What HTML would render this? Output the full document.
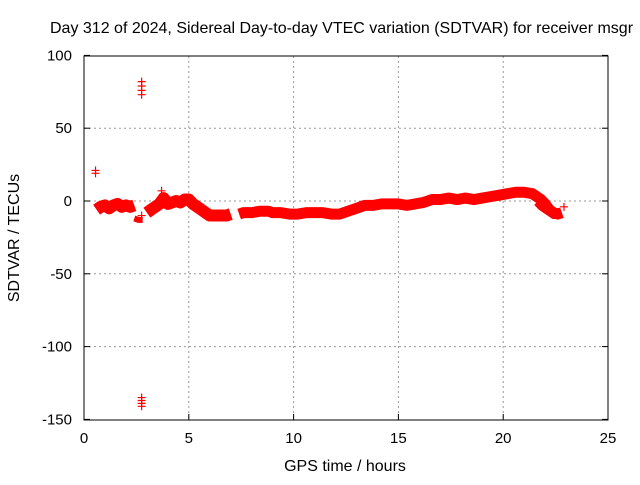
<!DOCTYPE html>
<html><head><meta charset="utf-8"><style>
body{margin:0;background:#fff}
svg{font-family:"Liberation Sans",sans-serif;font-size:15px}
</style></head><body>
<svg width="640" height="480" viewBox="0 0 640 480">
<text x="50" y="33" font-size="16">Day 312 of 2024, Sidereal Day-to-day VTEC variation (SDTVAR) for receiver msgr</text>
<g id="grid"></g>
<g id="axes"></g>
<g id="data"></g>
<rect x="84" y="56" width="524" height="364" fill="none" stroke="#000"/>
<text x="345" y="471" font-size="16" text-anchor="middle">GPS time / hours</text>
<text transform="translate(19,238) rotate(-90)" font-size="16" text-anchor="middle">SDTVAR / TECUs</text>
</svg>
<script>
const xTicks=[0,5,10,15,20,25];
const yTicks=[100,50,0,-50,-100,-150];
const times=[0.6,0.8,1.0,1.2,1.4,1.6,1.8,2.0,2.2,2.4];
const vals=[-6,-4,-3,-5,-3,-2,-4,-3,-4,-3];
const times2=[3.0,3.2,3.4,3.6,3.8,4.0,4.2,4.4,4.6,4.8,5.0,5.2,5.4,5.6,5.8,6.0,6.2,6.4,6.6,6.8,7.0];
const vals2=[-8,-6,-4,-2,2,-2,-1,0,-1,1,1,-2,-4,-6,-8,-10,-10,-10,-10,-10,-9];
const times3=[7.4,7.6,7.8,8.0,8.4,8.8,9.0,9.4,9.8,10.2,10.6,11.0,11.4,11.8,12.2,12.6,13.0,13.4,13.8,14.2,14.6,15.0,15.4,15.8,16.2,16.6,17.0,17.4,17.8,18.2,18.6,19.0,19.4,19.8,20.2,20.6,21.0,21.4,21.8,22.0,22.2,22.4,22.6,22.8];
const vals3=[-9,-8,-8,-8,-7,-7,-8,-8,-9,-9,-8,-8,-8,-9,-9,-7,-5,-3,-3,-2,-2,-2,-3,-2,-1,1,1,2,1,2,1,2,3,4,5,6,6,5,1,-2,-6,-8,-9,-8];
const times4=[2.4,2.6,2.8];
const vals4=[-12,-13,-13];
const times5=[21.6,21.8,22.0,22.2,22.4,22.6,22.8];
const vals5=[-1,-4,-6,-8,-10,-10,-9];
const outT=[0.55,0.55,2.75,2.75,2.75,2.75,2.75,2.75,2.75,2.75,2.75,3.7,22.9];
const outV=[19,21,73,76,79,82,-135,-137,-139,-141,-10,7,-4];
const X=t=>84+t*524/25, Y=v=>201-v*364/250;
const NS='http://www.w3.org/2000/svg';
function mk(tag,at,parent){const e=document.createElementNS(NS,tag);for(const k in at)e.setAttribute(k,at[k]);parent.appendChild(e);return e;}
const grid=document.getElementById('grid'),axes=document.getElementById('axes'),data=document.getElementById('data');
xTicks.forEach(t=>{
 if(t>0&&t<25){const l=mk('line',{x1:X(t),x2:X(t),y1:56,y2:420,stroke:'#999','stroke-dasharray':'2,3'},grid);
 }
 const tl=mk('line',{x1:X(t),x2:X(t),y1:420,y2:414,stroke:'#000'},axes);
 
 const tx=mk('text',{x:X(t),y:443,'text-anchor':'middle'},axes);tx.textContent=t;
 
});
yTicks.forEach(v=>{
 if(v<100&&v>-150){const l=mk('line',{x1:84,x2:608,y1:Y(v),y2:Y(v),stroke:'#999','stroke-dasharray':'2,3'},grid);
 }
 const tl=mk('line',{x1:84,x2:90,y1:Y(v),y2:Y(v),stroke:'#000'},axes);
 
 const tr=mk('line',{x1:602,x2:608,y1:Y(v),y2:Y(v),stroke:'#000'},axes);
 
 const tx=mk('text',{x:72,y:Y(v)+5,'text-anchor':'end'},axes);tx.textContent=v;
 
});
function band(ts,vs,w){
 const p=mk('polyline',{points:ts.map((t,i)=>X(t)+','+Y(vs[i])).join(' '),fill:'none',stroke:'#f00','stroke-width':w,'stroke-linejoin':'round','stroke-linecap':'butt'},data);
 
}
function plus(t,v){
 const x=X(t),y=Y(v);
 const p=mk('path',{d:`M${x-4},${y}H${x+4}M${x},${y-4}V${y+4}`,stroke:'#f00','stroke-width':1.2},data);
 
}
band(times,vals,12);band(times2,vals2,12);band(times3,vals3,11);band(times4,vals4,6);band(times5,vals5,7);
outT.forEach((t,i)=>plus(t,outV[i]));
</script>
</body></html>
